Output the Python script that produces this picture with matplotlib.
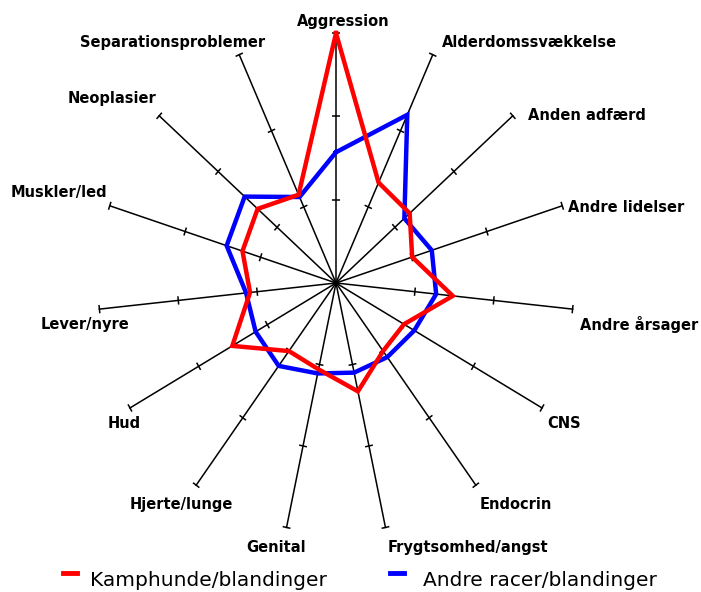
import matplotlib.pyplot as plt
import numpy as np
from matplotlib.collections import LineCollection

categories = ["Aggression", "Alderdomssvækkelse", "Anden adfærd", "Andre lidelser",
              "Andre årsager", "CNS", "Endocrin", "Frygtsomhed/angst", "Genital",
              "Hjerte/lunge", "Hud", "Lever/nyre", "Muskler/led", "Neoplasier",
              "Separationsproblemer"]
kamphunde = [30.0, 13.2, 12.5, 10.1, 14.8, 9.9, 10.1, 13.3, 10.6, 10.1, 15.1, 10.9, 12.4, 13.3, 11.6]
andre = [15.7, 22.1, 11.6, 12.7, 12.7, 11.4, 11.0, 11.0, 11.1, 12.3, 11.7, 11.4, 14.5, 15.5, 11.3]
series_names = ["Kamphunde/blandinger", "Andre racer/blandinger"]
ticks = [10, 20, 30]
rmax = 30

# label placement relative to each spoke end (pixels) and alignment
label_off = [(7, 12), (9, 12), (15, 0), (6, -2), (7, -15), (5, -16), (4, -19), (2, -20),
             (19, -20), (37, -19), (11, -16), (30, -15), (-2, 13), (-3, 17), (26, 12)]
label_ha = ["center", "left", "left", "left", "left", "left", "left", "left",
            "right", "right", "right", "right", "right", "right", "right"]

n = len(categories)
ang = np.pi / 2 - np.arange(n) * 2 * np.pi / n

fig = plt.figure(figsize=(7.01, 5.92), dpi=100)
ax = fig.add_axes([0, 0, 1, 1])
ax.set_xlim(-336 / 7.93, (701 - 336) / 7.93)
ax.set_ylim(-309 / 8.33, (592 - 309) / 8.33)
ax.axis("off")

# spokes
for a in ang:
    ax.plot([0, rmax * np.cos(a)], [0, rmax * np.sin(a)], color="black", lw=1.1, zorder=1)

# tick crossbars on each spoke
segs = []
h = 0.5
for a in ang:
    c, s = np.cos(a), np.sin(a)
    for t in ticks:
        segs.append([(t * c + h * s, t * s - h * c), (t * c - h * s, t * s + h * c)])
ax.add_collection(LineCollection(segs, colors="black", linewidths=1.1, zorder=1))

def closed(vals):
    v = np.array(vals + vals[:1])
    a = np.append(ang, ang[0])
    return v * np.cos(a), v * np.sin(a)

x, y = closed(andre)
ax.plot(x, y, color="#0000ff", lw=3.2, zorder=3, solid_joinstyle="miter")
x, y = closed(kamphunde)
ax.plot(x, y, color="#ff0000", lw=3.2, zorder=4, solid_joinstyle="miter")

for i, name in enumerate(categories):
    ax.annotate(name, (rmax * np.cos(ang[i]), rmax * np.sin(ang[i])),
                xytext=label_off[i], textcoords="offset pixels",
                ha=label_ha[i], va="center", fontsize=10.5, fontweight="bold")

# legend
for lx, tx, col, name in [(63, 90, "#ff0000", series_names[0]),
                          (390, 423, "#0000ff", series_names[1])]:
    fig.add_artist(plt.Line2D([lx / 701, (lx + 14) / 701], [1 - 572.5 / 592] * 2,
                              color=col, lw=3.5, transform=fig.transFigure))
    fig.text(tx / 701, 6 / 592, name, fontsize=14.5, ha="left", va="baseline")

fig.savefig("out.png", dpi=100)
